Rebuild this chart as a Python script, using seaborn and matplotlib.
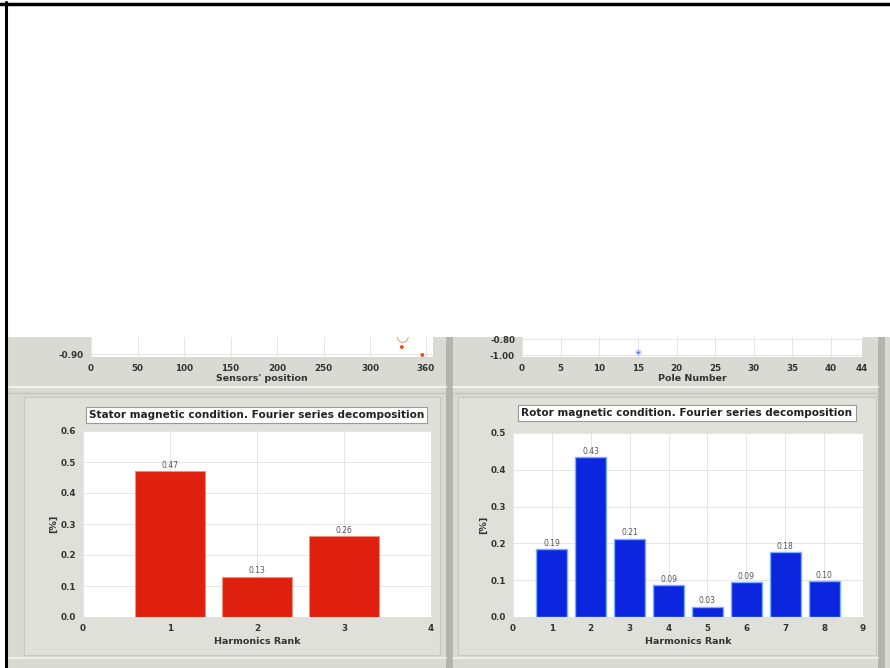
import matplotlib
matplotlib.use("Agg")
import matplotlib.pyplot as plt
from matplotlib.patches import Rectangle
from matplotlib.lines import Line2D
import seaborn as sns
import pandas as pd

# ---------------- data ----------------
stator_rank = [1, 2, 3]
stator_vals = [0.47, 0.13, 0.26]
stator_labels = ["0.47", "0.13", "0.26"]

rotor_rank = [1, 2, 3, 4, 5, 6, 7, 8]
rotor_vals = [0.185, 0.435, 0.213, 0.087, 0.028, 0.095, 0.176, 0.098]
rotor_labels = ["0.19", "0.43", "0.21", "0.09", "0.03", "0.09", "0.18", "0.10"]

sensor_pos = [334, 356]
sensor_val = [-0.845, -0.905]
sensor_ticks = [0, 50, 100, 150, 200, 250, 300, 360]

pole_num = [15]
pole_val = [-0.957]
pole_ticks = [0, 5, 10, 15, 20, 25, 30, 35, 40, 44]

# ---------------- figure ----------------
sns.set_style("white")
plt.rcParams['font.family'] = ['DejaVu Sans']
W, H = 890, 668
fig = plt.figure(figsize=(W / 100, H / 100), dpi=100)
fig.patch.set_facecolor("white")

def frac(x0, y0, x1, y1):
    return [x0 / W, 1 - y1 / H, (x1 - x0) / W, (y1 - y0) / H]

def frect(x0, y0, x1, y1, **kw):
    r = Rectangle((x0 / W, 1 - y1 / H), (x1 - x0) / W, (y1 - y0) / H,
                  transform=fig.transFigure, **kw)
    fig.add_artist(r)
    return r

def hline(x0, x1, y, **kw):
    fig.add_artist(Line2D([x0 / W, x1 / W], [1 - y / H, 1 - y / H],
                          transform=fig.transFigure, **kw))

def vline(x, y0, y1, **kw):
    fig.add_artist(Line2D([x / W, x / W], [1 - y0 / H, 1 - y1 / H],
                          transform=fig.transFigure, **kw))

GRAY = "#dadad4"
# gray screenshot area
frect(7, 337, 890, 668, facecolor=GRAY, edgecolor="none", zorder=-10)
# panel decorations
frect(24, 397, 440, 655, facecolor="#e0e0db", edgecolor="#c8c8c2", lw=0.8, zorder=-9)
frect(458, 397, 876, 655, facecolor="#e0e0db", edgecolor="#c8c8c2", lw=0.8, zorder=-9)
frect(446, 337, 453, 668, facecolor="#b4b4ae", edgecolor="none", zorder=-8)
frect(878, 337, 885, 668, facecolor="#b4b4ae", edgecolor="none", zorder=-8)
hline(7, 446, 387, color="#f2f2ee", lw=1.5, zorder=-8)
hline(453, 878, 387, color="#f2f2ee", lw=1.5, zorder=-8)
hline(7, 446, 393, color="#c4c4be", lw=1, zorder=-8)
hline(453, 878, 393, color="#c4c4be", lw=1, zorder=-8)
hline(7, 446, 658, color="#f2f2ee", lw=1.2, zorder=-8)
hline(453, 878, 658, color="#f2f2ee", lw=1.2, zorder=-8)
# black frame lines
hline(0, 890, 3.5, color="black", lw=2.5, zorder=20)
vline(6, 2, 668, color="black", lw=2.2, zorder=20)

def style_axes(ax):
    ax.set_facecolor("white")
    for s in ax.spines.values():
        s.set_visible(False)
    ax.grid(True, color="#e2e2e2", lw=0.6)
    ax.set_axisbelow(True)
    ax.tick_params(axis="both", length=3, width=0.6, color="#777777",
                   labelsize=6.3, labelcolor="#333333", pad=2)
    for lab in ax.get_xticklabels() + ax.get_yticklabels():
        lab.set_fontweight("bold")

# ---------------- top-left (cut) ----------------
ax1 = fig.add_axes(frac(91, 337, 433, 357))
df1 = pd.DataFrame({"pos": sensor_pos, "val": sensor_val})
sns.scatterplot(data=df1, x="pos", y="val", ax=ax1, color="#e8501a", s=8,
                edgecolor="none", legend=False)
ax1.scatter([335], [-0.77], s=60, facecolors="none", edgecolors="#f0a080", lw=0.8)
ax1.set_xlim(0, 367.5)
ax1.set_ylim(-0.92, -0.77)
ax1.set_xticks(sensor_ticks)
ax1.set_xticklabels([str(t) for t in sensor_ticks])
ax1.set_yticks([-0.90])
ax1.set_yticklabels(["-0.90"])
ax1.set_yticks([-0.835], minor=True)
ax1.tick_params(axis="y", which="minor", length=2, width=0.6, color="#777777")
ax1.set_xlabel("Sensors' position", fontsize=6.8, fontweight="bold", color="#333333", labelpad=1)
ax1.set_ylabel("")
style_axes(ax1)

# ---------------- top-right (cut) ----------------
ax2 = fig.add_axes(frac(522, 337, 862, 357))
df2 = pd.DataFrame({"pole": pole_num, "val": pole_val})
sns.scatterplot(data=df2, x="pole", y="val", ax=ax2, color="#2030c0", s=8,
                edgecolor="#c0c8ff", linewidth=1.5, legend=False)
ax2.set_xlim(0, 44)
ax2.set_ylim(-1.02, -0.77)
ax2.set_xticks(pole_ticks)
ax2.set_xticklabels([str(t) for t in pole_ticks])
ax2.set_yticks([-1.0, -0.8])
ax2.set_yticklabels(["-1.00", "-0.80"])
ax2.set_xlabel("Pole Number", fontsize=6.8, fontweight="bold", color="#333333", labelpad=1)
ax2.set_ylabel("")
style_axes(ax2)

# ---------------- bottom-left: stator ----------------
ax3 = fig.add_axes(frac(83, 431, 431, 617))
df3 = pd.DataFrame({"rank": stator_rank, "val": stator_vals})
sns.barplot(data=df3, x="rank", y="val", ax=ax3, native_scale=True, width=0.8,
            color="#e0200e", saturation=1, edgecolor="#f0907a", linewidth=0.8)
ax3.bar_label(ax3.containers[0], labels=stator_labels, fontsize=5.5,
              color="#555555", padding=1)
ax3.set_xlim(0, 4)
ax3.set_ylim(0, 0.6)
ax3.set_xticks([0, 1, 2, 3, 4])
ax3.set_yticks([0, 0.1, 0.2, 0.3, 0.4, 0.5, 0.6])
ax3.set_yticklabels(["0.0", "0.1", "0.2", "0.3", "0.4", "0.5", "0.6"])
ax3.set_xlabel("Harmonics Rank", fontsize=6.8, fontweight="bold", color="#333333", labelpad=3)
ax3.set_ylabel("[%]", fontsize=6.8, fontweight="bold", color="#333333", labelpad=2)
style_axes(ax3)

# ---------------- bottom-right: rotor ----------------
ax4 = fig.add_axes(frac(513, 433, 863, 617))
df4 = pd.DataFrame({"rank": rotor_rank, "val": rotor_vals})
sns.barplot(data=df4, x="rank", y="val", ax=ax4, native_scale=True, width=0.8,
            color="#0c26e0", saturation=1, edgecolor="#7ab0ff", linewidth=1)
ax4.bar_label(ax4.containers[0], labels=rotor_labels, fontsize=5.5,
              color="#555555", padding=1)
ax4.set_xlim(0, 9)
ax4.set_ylim(0, 0.5)
ax4.set_xticks(list(range(10)))
ax4.set_yticks([0, 0.1, 0.2, 0.3, 0.4, 0.5])
ax4.set_yticklabels(["0.0", "0.1", "0.2", "0.3", "0.4", "0.5"])
ax4.set_xlabel("Harmonics Rank", fontsize=6.8, fontweight="bold", color="#333333", labelpad=3)
ax4.set_ylabel("[%]", fontsize=6.8, fontweight="bold", color="#333333", labelpad=2)
style_axes(ax4)

# ---------------- panel titles ----------------
box = dict(boxstyle="square,pad=0.3", facecolor="white", edgecolor="#999999", lw=0.8)
fig.text(256.5 / W, 1 - 415 / H, "Stator magnetic condition. Fourier series decomposition",
         ha="center", va="center", fontsize=7.6, fontweight="bold", color="#222222", bbox=box)
fig.text(687 / W, 1 - 413 / H, "Rotor magnetic condition. Fourier series decomposition",
         ha="center", va="center", fontsize=7.6, fontweight="bold", color="#222222", bbox=box)

fig.savefig("out.png", dpi=100, facecolor=fig.get_facecolor())
